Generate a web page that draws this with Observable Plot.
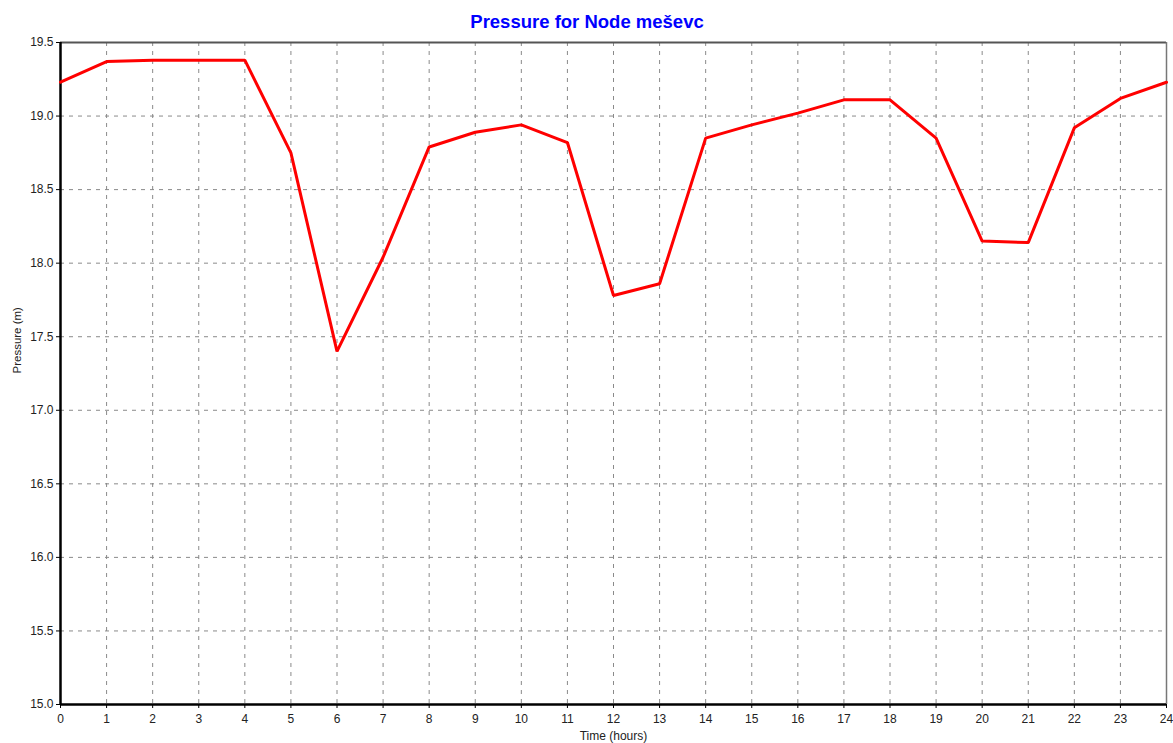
<!DOCTYPE html>
<html>
<head>
<meta charset="utf-8">
<script src="https://cdn.jsdelivr.net/npm/d3@7"></script>
<script src="https://cdn.jsdelivr.net/npm/@observablehq/plot@0.6"></script>
<style>
  html, body { margin: 0; padding: 0; background: #fff; }
  #chart svg { display: block; }
</style>
</head>
<body>
<div id="chart"></div>
<script>
// Hourly pressure at node "meševc" over a 24-hour simulation
const hours = [0, 1, 2, 3, 4, 5, 6, 7, 8, 9, 10, 11, 12, 13, 14, 15, 16, 17, 18, 19, 20, 21, 22, 23, 24];
const pressure = [19.23, 19.37, 19.38, 19.38, 19.38, 18.75, 17.40, 18.04, 18.79, 18.89, 18.94, 18.82,
                  17.78, 17.86, 18.85, 18.94, 19.02, 19.11, 19.11, 18.85, 18.15, 18.14, 18.92, 19.12, 19.23];
const xTicks = d3.range(0, 25, 1);
const yTicks = [15.0, 15.5, 16.0, 16.5, 17.0, 17.5, 18.0, 18.5, 19.0, 19.5];

const titleText = "Pressure for Node meševc";
const xLabel = "Time (hours)";
const yLabel = "Pressure (m)";

const data = hours.map((h, i) => ({hour: h, value: pressure[i]}));

const font = "'Liberation Sans', Arial, sans-serif";
const W = 1173, ML = 60, MR = 7;

const chart = Plot.plot({
  width: W,
  height: 743,
  marginLeft: ML,
  marginRight: MR,
  marginTop: 42,
  marginBottom: 39,
  style: {fontFamily: font, fontSize: "12px", color: "#222", background: "#fff"},
  x: {domain: [0, 24]},
  y: {domain: [15, 19.5]},
  marks: [
    // dashed grid
    Plot.gridX(xTicks.slice(1, -1), {stroke: "#8a8a8a", strokeOpacity: 1, strokeDasharray: "4,5"}),
    Plot.gridY(yTicks.slice(1, -1), {stroke: "#8a8a8a", strokeOpacity: 1, strokeDasharray: "4,5"}),
    // frame: heavy left/bottom axes, lighter top/right edges
    Plot.ruleY([19.5], {stroke: "#555", strokeWidth: 2}),
    Plot.ruleX([24], {stroke: "#777", strokeWidth: 1.5}),
    Plot.ruleY([15], {stroke: "#000", strokeWidth: 2.5}),
    Plot.ruleX([0], {stroke: "#000", strokeWidth: 2.5}),
    Plot.axisX(xTicks, {tickSize: 4, tickPadding: 6, label: null, stroke: "#000", fill: "#222", fontSize: 12}),
    Plot.axisY(yTicks, {tickSize: 4, tickPadding: 3, label: null, tickFormat: d3.format(".1f"), stroke: "#000", fill: "#222", fontSize: 12}),
    // pressure series
    Plot.line(data, {x: "hour", y: "value", stroke: "#ff0000", strokeWidth: 3, strokeLinejoin: "miter"}),
    // title centred on the whole window, axis labels centred on the frame
    Plot.text([titleText], {frameAnchor: "top", dx: (ML - MR) / -2, dy: -28, fill: "#0000ff", fontWeight: "bold", fontSize: 18.5}),
    Plot.text([xLabel], {frameAnchor: "bottom", lineAnchor: "middle", dy: 32, fill: "#222", fontSize: 12}),
    Plot.text([yLabel], {frameAnchor: "left", dx: -43, rotate: -90, fill: "#222", fontSize: 11.5})
  ]
});

document.getElementById("chart").appendChild(chart);
</script>
</body>
</html>
